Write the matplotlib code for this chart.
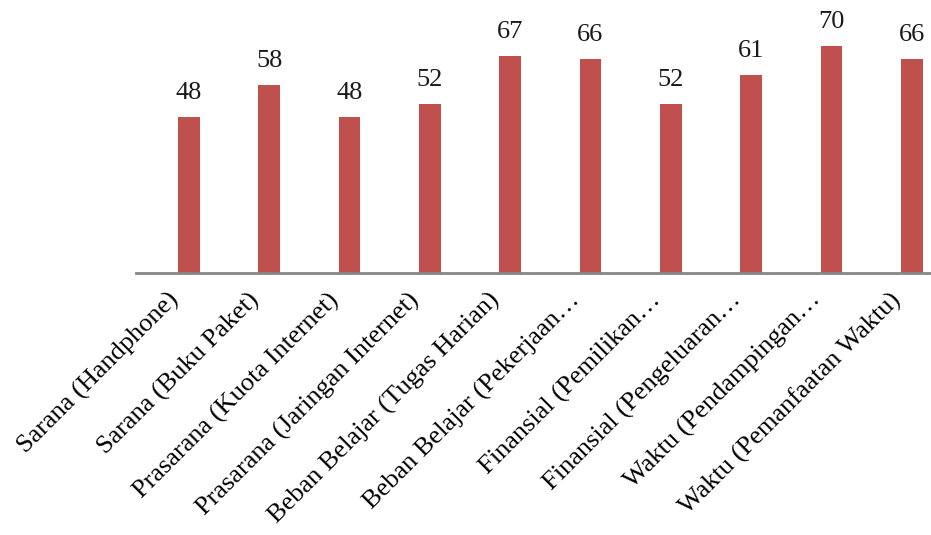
import matplotlib.pyplot as plt
from matplotlib.transforms import ScaledTranslation

categories = [
    "Sarana (Handphone)",
    "Sarana (Buku Paket)",
    "Prasarana (Kuota Internet)",
    "Prasarana (Jaringan Internet)",
    "Beban Belajar (Tugas Harian)",
    "Beban Belajar (Pekerjaan…",
    "Finansial (Pemilikan…",
    "Finansial (Pengeluaran…",
    "Waktu (Pendampingan…",
    "Waktu (Pemanfaatan Waktu)",
]
values = [48, 58, 48, 52, 67, 66, 52, 61, 70, 66]

plt.rcParams["font.family"] = ["Liberation Serif", "DejaVu Serif"]

fig = plt.figure(figsize=(9.31, 5.35), dpi=100)
ax = fig.add_axes([0.146, 0.4897, 0.854, 0.5103])

x = range(len(values))
ax.bar(x, values, width=0.27, color="#C0504D", zorder=2)
for xi, v in zip(x, values):
    ax.text(xi, v + 4, str(v), ha="center", va="bottom", fontsize=19, color="#1a1a1a")

ax.set_xlim(-0.66, 9.24)
ax.set_ylim(0, 84.2)
ax.set_xticks(list(x))
ax.set_xticklabels(categories, rotation=45, ha="right", va="bottom",
                   rotation_mode="anchor", fontsize=19)
ax.tick_params(axis="x", length=0, pad=23)
shift = ScaledTranslation(-4 / 72, 0, fig.dpi_scale_trans)
for lbl in ax.get_xticklabels():
    lbl.set_transform(lbl.get_transform() + shift)
ax.set_yticks([])
for side in ["top", "right", "left"]:
    ax.spines[side].set_visible(False)
ax.spines["bottom"].set_color("#868686")
ax.spines["bottom"].set_linewidth(2)

fig.savefig("out.png", dpi=100)
